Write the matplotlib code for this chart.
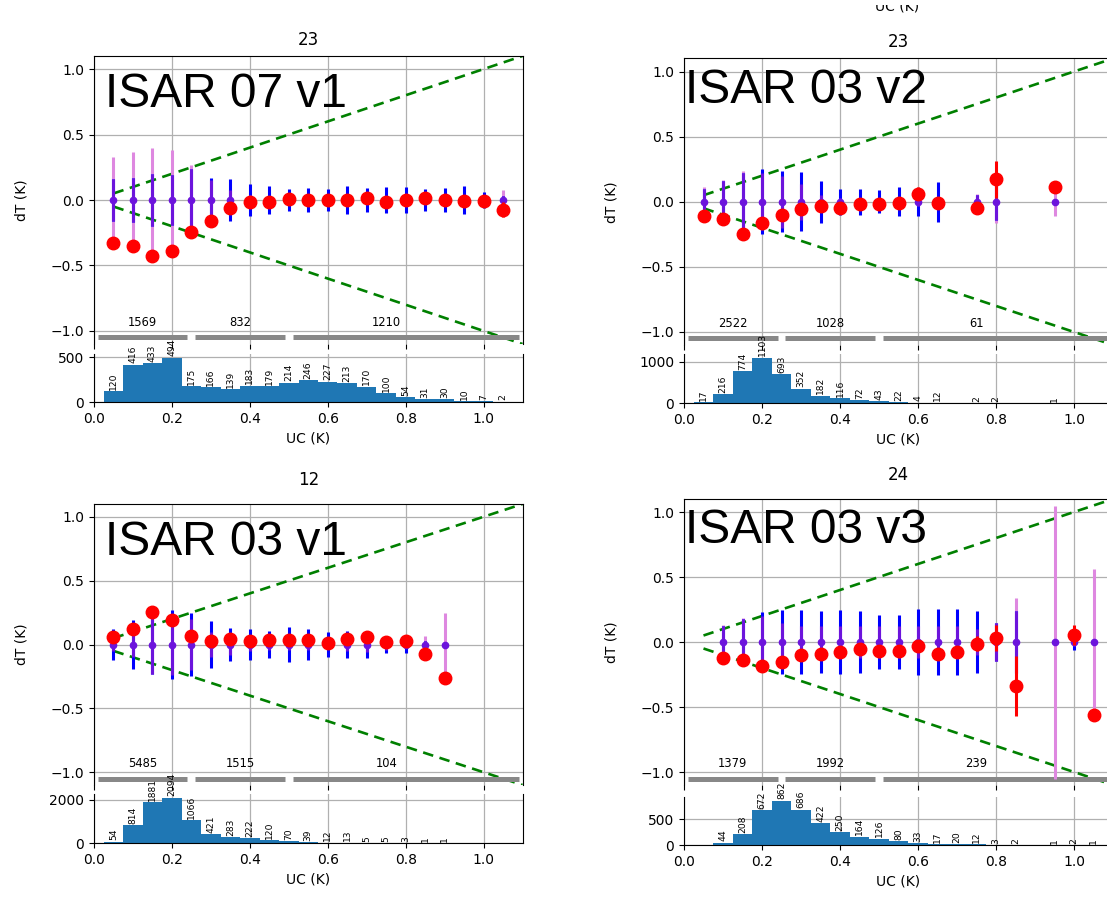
import numpy as np
import matplotlib
matplotlib.use("Agg")
import matplotlib.pyplot as plt
from matplotlib.patches import Rectangle

# ---------------- data ----------------
p1_title = "23"
p1_label = "ISAR 07 v1"
p1_uc = [0.05, 0.10, 0.15, 0.20, 0.25, 0.30, 0.35, 0.40, 0.45, 0.50, 0.55,
         0.60, 0.65, 0.70, 0.75, 0.80, 0.85, 0.90, 0.95, 1.00, 1.05]
p1_dt = [-0.33, -0.35, -0.43, -0.39, -0.245, -0.16, -0.063, -0.018, -0.018, 0.008, 0.0,
         0.0, 0.0, 0.013, -0.018, 0.0, 0.013, 0.0, -0.008, -0.008, -0.073]
p1_dt_err = [0.03, 0.03, 0.03, 0.03, 0.03, 0.03, 0.03, 0.02, 0.02, 0.02, 0.02,
             0.02, 0.02, 0.02, 0.02, 0.02, 0.02, 0.02, 0.02, 0.02, 0.06]
p1_sd_blue = [0.16, 0.17, 0.20, 0.19, 0.24, 0.17, 0.16, 0.12, 0.11, 0.083, 0.093,
              0.083, 0.11, 0.093, 0.10, 0.10, 0.083, 0.093, 0.11, 0.058, 0.03]
p1_sd_violet = [0.33, 0.365, 0.40, 0.38, 0.265, 0.15, 0.08, 0.04, 0.03, 0.03, 0.03,
                0.03, 0.03, 0.03, 0.03, 0.03, 0.03, 0.03, 0.03, 0.03, 0.076]
p1_counts = [120, 416, 433, 494, 175, 166, 139, 183, 179, 214, 246,
             227, 213, 170, 100, 54, 31, 30, 10, 7, 2]
p1_groups = [1569, 832, 1210]

p2_title = "23"
p2_label = "ISAR 03 v2"
p2_uc = [0.05, 0.10, 0.15, 0.20, 0.25, 0.30, 0.35, 0.40, 0.45, 0.50, 0.55,
         0.60, 0.65, 0.75, 0.80, 0.95]
p2_dt = [-0.106, -0.134, -0.25, -0.162, -0.10, -0.055, -0.03, -0.048, -0.018, -0.018, -0.01,
         0.063, -0.01, -0.048, 0.172, 0.116]
p2_dt_err = [0.02, 0.02, 0.02, 0.02, 0.02, 0.02, 0.02, 0.02, 0.02, 0.02, 0.02,
             0.05, 0.02, 0.02, 0.14, 0.02]
p2_sd_blue = [0.10, 0.16, 0.22, 0.25, 0.235, 0.225, 0.16, 0.10, 0.10, 0.09, 0.11,
              0.106, 0.154, 0.05, 0.14, 0.0]
p2_sd_violet = [0.116, 0.164, 0.235, 0.22, 0.20, 0.14, 0.05, 0.03, 0.03, 0.03, 0.03,
                0.03, 0.03, 0.058, 0.165, 0.11]
p2_counts = [17, 216, 774, 1103, 693, 352, 182, 116, 72, 43, 22,
             4, 12, 2, 2, 1]
p2_groups = [2522, 1028, 61]

p3_title = "12"
p3_label = "ISAR 03 v1"
p3_uc = [0.05, 0.10, 0.15, 0.20, 0.25, 0.30, 0.35, 0.40, 0.45, 0.50, 0.55,
         0.60, 0.65, 0.70, 0.75, 0.80, 0.85, 0.90]
p3_dt = [0.057, 0.121, 0.258, 0.193, 0.064, 0.026, 0.044, 0.026, 0.036, 0.036, 0.036,
         0.01, 0.044, 0.057, 0.018, 0.026, -0.072, -0.26]
p3_dt_err = [0.02] * 16 + [0.03, 0.03]
p3_sd_blue = [0.12, 0.19, 0.23, 0.268, 0.245, 0.187, 0.129, 0.12, 0.108, 0.139, 0.12,
              0.10, 0.108, 0.108, 0.066, 0.066, 0.03, 0.0]
p3_sd_violet = [0.05, 0.10, 0.23, 0.24, 0.20, 0.10, 0.08, 0.05, 0.04, 0.04, 0.04,
                0.03, 0.05, 0.06, 0.04, 0.03, 0.064, 0.25]
p3_counts = [54, 814, 1881, 2094, 1066, 421, 283, 222, 120, 70, 39,
             12, 13, 5, 5, 3, 1, 1]
p3_groups = [5485, 1515, 104]

p4_title = "24"
p4_label = "ISAR 03 v3"
p4_uc = [0.10, 0.15, 0.20, 0.25, 0.30, 0.35, 0.40, 0.45, 0.50, 0.55, 0.60,
         0.65, 0.70, 0.75, 0.80, 0.85, 0.95, 1.00, 1.05]
p4_dt = [-0.12, -0.138, -0.185, -0.151, -0.10, -0.095, -0.077, -0.056, -0.069, -0.069, -0.031,
         -0.095, -0.077, -0.013, 0.033, -0.338, np.nan, 0.054, -0.56]
p4_dt_err = [0.02, 0.02, 0.02, 0.02, 0.02, 0.02, 0.02, 0.02, 0.02, 0.02, 0.02,
             0.02, 0.02, 0.06, 0.10, 0.233, np.nan, 0.075, 0.02]
p4_sd_blue = [0.12, 0.18, 0.23, 0.246, 0.246, 0.238, 0.246, 0.238, 0.208, 0.208, 0.256,
              0.256, 0.256, 0.238, 0.149, 0.238, 0.0, 0.064, 0.0]
p4_sd_violet = [0.128, 0.182, 0.20, 0.15, 0.12, 0.12, 0.12, 0.12, 0.12, 0.12, 0.12,
                0.12, 0.12, 0.10, 0.149, 0.341, 1.05, 0.03, 0.56]
p4_counts = [44, 208, 672, 862, 686, 422, 250, 164, 126, 80, 33,
             17, 20, 12, 3, 2, 1, 2, 1]
p4_groups = [1379, 1992, 239]

group_starts = [0.01, 0.26, 0.51]
group_ends = [0.24, 0.49, 1.09]
group_label_x = [0.125, 0.375, 0.75]
envelope_uc = [0.05, 1.10]

# ---------------- figure ----------------
W, H = 1107, 897
fig = plt.figure(figsize=(W / 100, H / 100), dpi=100)
plt.rcParams['font.size'] = 10


def add_ax(l, t, r, b):
    return fig.add_axes([l / W, 1 - b / H, (r - l) / W, (b - t) / H])


PURPLE = '#6c14dc'


def panel(box_main, box_hist, title, title_pad, label, label_xy, uc, dt, dt_err,
          sd_blue, sd_violet, counts, groups, hist_tick):
    ax = add_ax(*box_main)
    hx = add_ax(box_main[0], box_hist[0], box_main[2], box_hist[1])
    uc = np.asarray(uc)
    zeros = np.zeros_like(uc)
    sb = np.asarray(sd_blue)
    sv = np.asarray(sd_violet)
    both = np.minimum(sb, sv)

    ax.grid(True, color='#b0b0b0', lw=0.9)
    ax.set_axisbelow(True)
    env = np.asarray(envelope_uc)
    ax.plot(env, env, ls='--', color='green', lw=1.9, dashes=(4, 2.5), zorder=2)
    ax.plot(env, -env, ls='--', color='green', lw=1.9, dashes=(4, 2.5), zorder=2)
    ax.errorbar(uc, zeros, yerr=sv, fmt='none', ecolor='#de88e0', elinewidth=2.2, zorder=3)
    ax.errorbar(uc, zeros, yerr=sb, fmt='none', ecolor='blue', elinewidth=2.2, zorder=3)
    ax.errorbar(uc, zeros, yerr=both, fmt='none', ecolor=PURPLE, elinewidth=2.2, zorder=3.5)
    ax.plot(uc, zeros, 'o', color=PURPLE, ms=4.5, zorder=4)
    ax.errorbar(uc, dt, yerr=dt_err, fmt='o', color='red', ms=9,
                elinewidth=2.2, zorder=5)
    ax.hlines([-1.05] * 3, group_starts, group_ends, color='#888888', lw=3.6, zorder=2)
    for gx, gc in zip(group_label_x, groups):
        ax.text(gx, -0.985, str(gc), ha='center', va='bottom', fontsize=8.3)

    ax.set_xlim(0, 1.1)
    ax.set_ylim(-1.1, 1.1)
    ax.set_xticks(np.arange(0, 1.01, 0.2))
    ax.set_yticks([-1.0, -0.5, 0.0, 0.5, 1.0])
    ax.tick_params(labelbottom=False)
    ax.spines['bottom'].set_visible(False)
    ax.set_ylabel('dT (K)', labelpad=16)
    ax.set_title(title, fontsize=12, pad=title_pad)

    hx.grid(True, color='#b0b0b0', lw=0.9)
    hx.set_axisbelow(True)
    hx.bar(uc, counts, width=0.05, color='#1f77b4', zorder=2)
    for cx, cc in zip(uc, counts):
        hx.text(cx, cc + max(counts) * 0.03, str(cc), rotation=90, ha='center',
                va='bottom', fontsize=6.6, zorder=3)
    hx.set_xlim(0, 1.1)
    hx.set_ylim(0, max(counts) * 1.08)
    hx.set_xticks(np.arange(0, 1.01, 0.2))
    hx.set_yticks([0, hist_tick])
    hx.spines['top'].set_visible(False)
    hx.set_xlabel('UC (K)')

    fig.text(label_xy[0] / W, 1 - label_xy[1] / H, label, fontsize=34.5,
             family='Liberation Sans', ha='left', va='baseline', zorder=10)


panel((94, 56, 522.5, 344), (354, 402), p1_title, 8, p1_label, (105, 107),
      p1_uc, p1_dt, p1_dt_err, p1_sd_blue, p1_sd_violet, p1_counts, p1_groups, 500)
panel((684, 58.5, 1113, 345), (354, 403), p2_title, 8, p2_label, (685, 103),
      p2_uc, p2_dt, p2_dt_err, p2_sd_blue, p2_sd_violet, p2_counts, p2_groups, 1000)
panel((94, 504, 522.5, 785), (794, 843), p3_title, 14, p3_label, (105, 555),
      p3_uc, p3_dt, p3_dt_err, p3_sd_blue, p3_sd_violet, p3_counts, p3_groups, 2000)
panel((684, 499, 1113, 785), (797, 845), p4_title, 14, p4_label, (685, 543),
      p4_uc, p4_dt, p4_dt_err, p4_sd_blue, p4_sd_violet, p4_counts, p4_groups, 500)

# remnant of a label from a neighbouring figure, cut at the top edge
fig.text(897 / W, 1 - 11 / H, 'UC (K)', ha='center', va='baseline', fontsize=10, zorder=1)
fig.patches.append(Rectangle((0, 1 - 5 / H), 1, 5 / H, transform=fig.transFigure,
                             facecolor='white', edgecolor='none', zorder=2))

fig.savefig('out.png', dpi=100)
